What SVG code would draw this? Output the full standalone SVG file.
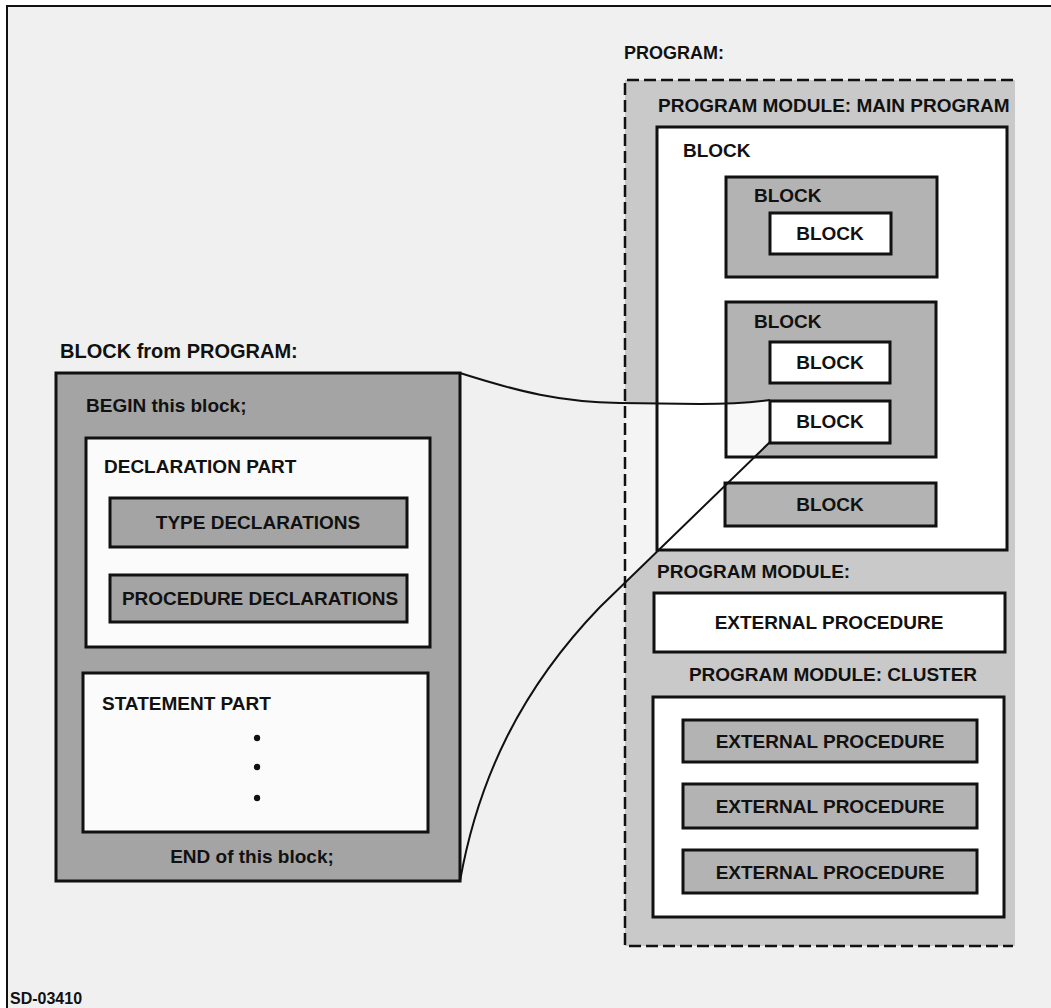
<svg xmlns="http://www.w3.org/2000/svg" width="1051" height="1008" viewBox="0 0 1051 1008">
<style>
  text { font-family: "Liberation Sans", Arial, sans-serif; font-weight: bold; font-size: 19px; fill: #111; }
  .mid { text-anchor: middle; }
  .box { stroke: #111; stroke-width: 3; }
  .white { fill: #ffffff; }
  .g1 { fill: #b3b3b3; }
  .g2 { fill: #a4a4a4; }
  .gm { fill: #c9c9c9; }
  .conn { fill: none; stroke: #111; stroke-width: 2; }
</style>
<rect x="0" y="0" width="1051" height="1008" fill="#ffffff"/>
<rect x="7" y="6" width="1044" height="1002" fill="#f0f0f0"/>
<path d="M7,1008 V6 H1051" fill="none" stroke="#111" stroke-width="2"/>

<g id="program">
  <text x="624" y="59" style="font-size:18px">PROGRAM:</text>
  <rect x="625" y="80" width="390" height="866" class="gm"/>
  <polygon points="625,403 657,404 657,551 625,583" fill="#f4f4f4"/>
  <path d="M1013,80 H625 V946 H1013" fill="none" stroke="#111" stroke-width="2.5" stroke-dasharray="12 5"/>
  <text x="658" y="112">PROGRAM MODULE: MAIN PROGRAM</text>
  <text x="657" y="578">PROGRAM MODULE:</text>
  <text x="833" y="681" class="mid">PROGRAM MODULE: CLUSTER</text>
</g>

<g id="main-block">
  <rect x="657" y="127" width="350" height="423" class="white box"/>
  <text x="683" y="157">BLOCK</text>
</g>

<g id="block-a">
  <rect x="726" y="177" width="211" height="100" class="g1 box"/>
  <text x="754" y="202">BLOCK</text>
</g>
<g id="block-a1">
  <rect x="770" y="213" width="121" height="41" class="white box"/>
  <text x="830" y="240" class="mid">BLOCK</text>
</g>

<g id="block-b">
  <rect x="726" y="302" width="210" height="155" class="g1"/>
  <polygon points="726,404 770,400 770,442 754,457 726,457" fill="#f8f8f8"/>
  <rect x="726" y="302" width="210" height="155" fill="none" class="box"/>
  <text x="754" y="328">BLOCK</text>
</g>
<g id="block-b1">
  <rect x="770" y="342" width="120" height="41" class="white box"/>
  <text x="830" y="369" class="mid">BLOCK</text>
</g>
<g id="block-b2">
  <rect x="770" y="401" width="120" height="42" class="white box"/>
  <text x="830" y="428" class="mid">BLOCK</text>
</g>

<g id="block-c">
  <rect x="725" y="483" width="211" height="43" class="g1 box"/>
  <text x="830" y="511" class="mid">BLOCK</text>
</g>

<g id="ext-proc">
  <rect x="654" y="593" width="351" height="59" class="white box"/>
  <text x="829" y="629" class="mid">EXTERNAL PROCEDURE</text>
</g>

<g id="cluster">
  <rect x="653" y="697" width="351" height="220" class="white box"/>
</g>
<g id="cluster-ext1">
  <rect x="683" y="720" width="294" height="42" class="g1 box"/>
  <text x="830" y="748" class="mid">EXTERNAL PROCEDURE</text>
</g>
<g id="cluster-ext2">
  <rect x="683" y="784" width="294" height="44" class="g1 box"/>
  <text x="830" y="813" class="mid">EXTERNAL PROCEDURE</text>
</g>
<g id="cluster-ext3">
  <rect x="683" y="850" width="294" height="43" class="g1 box"/>
  <text x="830" y="879" class="mid">EXTERNAL PROCEDURE</text>
</g>

<g id="block-detail">
  <text x="60" y="358" style="font-size:20px">BLOCK from PROGRAM:</text>
  <rect x="56" y="373" width="404" height="508" class="g2 box"/>
  <text x="86" y="412">BEGIN this block;</text>
  <text x="252" y="863" class="mid">END of this block;</text>
</g>

<g id="declaration-part">
  <rect x="86" y="438" width="344" height="209" class="box" fill="#fbfbfb"/>
  <text x="104" y="473">DECLARATION PART</text>
</g>
<g id="type-declarations">
  <rect x="110" y="498" width="297" height="49" class="g2 box"/>
  <text x="258" y="529" class="mid">TYPE DECLARATIONS</text>
</g>
<g id="procedure-declarations">
  <rect x="110" y="575" width="297" height="47" class="g2 box"/>
  <text x="260" y="605" class="mid">PROCEDURE DECLARATIONS</text>
</g>

<g id="statement-part">
  <rect x="83" y="673" width="345" height="159" class="box" fill="#fbfbfb"/>
  <text x="102" y="710">STATEMENT PART</text>
  <circle cx="257" cy="738" r="3.2" fill="#111"/>
  <circle cx="257" cy="767" r="3.2" fill="#111"/>
  <circle cx="257" cy="798" r="3.2" fill="#111"/>
</g>

<g id="connectors">
  <path class="conn" d="M460,373 C520,392 560,402 620,403 L700,404 C740,404 755,402 770,400"/>
  <path class="conn" d="M460,881 C478,780 520,690 600,607 L770,442"/>
</g>

<text x="10" y="1004" style="font-size:16px">SD-03410</text>
</svg>
